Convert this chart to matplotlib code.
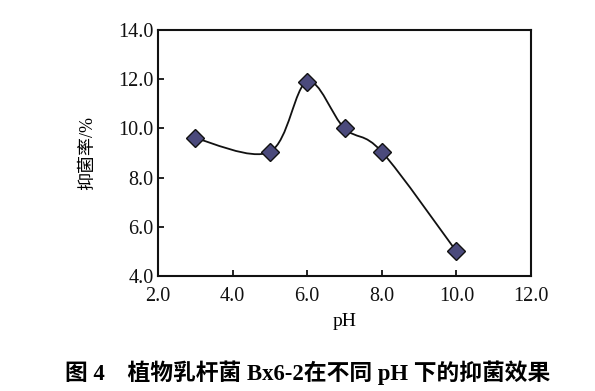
import matplotlib
matplotlib.use("Agg")
import matplotlib.pyplot as plt
from matplotlib.path import Path
from matplotlib.patches import PathPatch
import numpy as np

ph = [3.0, 5.0, 6.0, 7.0, 8.0, 10.0]
inhibition = [9.6, 9.05, 11.9, 10.0, 9.05, 5.0]
xticks = [2.0, 4.0, 6.0, 8.0, 10.0, 12.0]
yticks = [4.0, 6.0, 8.0, 10.0, 12.0, 14.0]
xlabel = "pH"
ylabel = "抑菌率/%"
caption = "图 4　植物乳杆菌 Bx6-2在不同 pH 下的抑菌效果"

fig = plt.figure(figsize=(5.95, 3.91), dpi=100)
ax = fig.add_axes([158/595, 1-276/391, (531-158)/595, (276-30)/391])

# smoothed line (Excel-like Catmull-Rom bezier through the data points)
x = np.array(ph); y = np.array(inhibition)
verts = [(x[0], y[0])]; codes = [Path.MOVETO]
n = len(x)
for i in range(n-1):
    p0 = (x[i-1], y[i-1]) if i > 0 else (x[i], y[i])
    p1 = (x[i], y[i]); p2 = (x[i+1], y[i+1])
    p3 = (x[i+2], y[i+2]) if i+2 < n else (x[i+1], y[i+1])
    c1 = (p1[0] + (p2[0]-p0[0])/6, p1[1] + (p2[1]-p0[1])/6)
    c2 = (p2[0] - (p3[0]-p1[0])/6, p2[1] - (p3[1]-p1[1])/6)
    verts += [c1, c2, p2]; codes += [Path.CURVE4]*3
ax.add_patch(PathPatch(Path(verts, codes), facecolor="none", edgecolor="#111111", lw=1.3, zorder=2))
ax.plot(ph, inhibition, linestyle="none", marker="D", markersize=9.5,
        markerfacecolor="#4b4a7c", markeredgecolor="#111111", markeredgewidth=1.0, zorder=3)

ax.set_xlim(2, 12); ax.set_ylim(4, 14)
ax.set_xticks(xticks); ax.set_yticks(yticks)
ax.set_xticklabels([f"{v:.1f}" for v in xticks])
ax.set_yticklabels([f"{v:.1f}" for v in yticks])
for s in ax.spines.values():
    s.set_linewidth(1.5); s.set_color("#111111")
ax.tick_params(direction="in", length=4, width=1.3, labelsize=14.5, colors="#111111")
ax.tick_params(axis="x", pad=8)
ax.tick_params(axis="y", pad=3)
for lab in ax.get_xticklabels() + ax.get_yticklabels():
    lab.set_family("Liberation Serif")
ax.set_xlabel(xlabel, fontsize=14, family="Liberation Serif", labelpad=5)
ax.set_ylabel(ylabel, fontsize=13, family=["Liberation Serif", "Noto Sans CJK SC"], labelpad=16)

fig.text(65/595, 1-373/391, caption, fontsize=16.4, fontweight="bold",
         family=["Liberation Serif", "Noto Sans CJK SC"], va="center", ha="left")

fig.savefig("out.png", dpi=100)
